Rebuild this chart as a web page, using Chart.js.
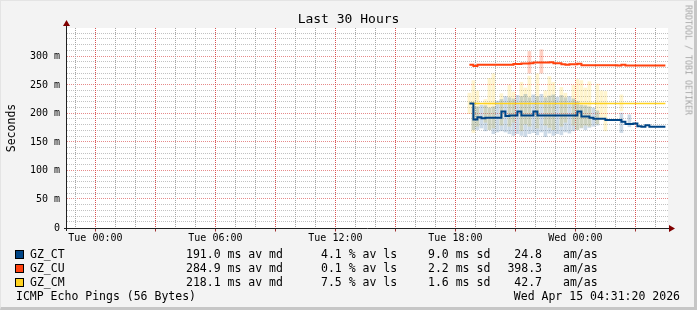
<!DOCTYPE html>
<html>
<head>
<meta charset="utf-8">
<title>Last 30 Hours</title>
<script src="https://cdn.jsdelivr.net/npm/chart.js@4.4.1/dist/chart.umd.min.js"></script>
<style>
  html, body { margin: 0; padding: 0; background: #f3f3f3; }
  #wrap { position: relative; width: 697px; height: 310px; overflow: hidden; background: #f3f3f3;
          font-family: "DejaVu Sans Mono", monospace; color: #000; }
  #frame { position: absolute; left: 0; top: 0; width: 697px; height: 310px; box-sizing: border-box;
           border-right: 3px solid #c6c6c6; border-bottom: 3px solid #c6c6c6;
           border-top: 1px solid #e4e4e4; border-left: 1px solid #e4e4e4; pointer-events: none; }
  canvas { position: absolute; left: 0; top: 0; }
  .t { position: absolute; white-space: pre; font-size: 11.5px; line-height: 14px; }
  .r { text-align: right; }
  .box { position: absolute; left: 15px; width: 9px; height: 9px; box-sizing: border-box; border: 1px solid #000; }
  #title { position: absolute; left: 0; top: 12px; width: 697px; text-align: center; font-size: 13px; line-height: 14px; }
  #ylab { position: absolute; left: 10.7px; top: 127.5px; font-size: 11.5px; line-height: 12px;
          transform: translate(-50%, -50%) rotate(-90deg); white-space: nowrap; }
  #mark { position: absolute; left: 688px; top: 60px; font-size: 8.3px; line-height: 9px;
          color: #a6a6a6; white-space: nowrap; transform: translate(-50%, -50%) rotate(90deg); }
</style>
</head>
<body>
<div id="wrap">
  <canvas id="chart" width="697" height="310"></canvas>
  <div id="title">Last 30 Hours</div>
  <div id="ylab">Seconds</div>
  <div id="mark">RRDTOOL / TOBI OETIKER</div>
  <div id="legend"></div>
  <div class="t" style="left:16px; top:289px;">ICMP Echo Pings (56 Bytes)</div>
  <div class="t r" style="right:17px; top:289px;">Wed Apr 15 04:31:20 2026</div>
  <div id="frame"></div>
</div>
<script>
// hours since Tue 00:00
const hours = [18.7, 18.9, 19.1, 19.3, 19.5, 19.7, 19.9, 20.1, 20.3, 20.5,
               20.7, 20.9, 21.1, 21.3, 21.5, 21.7, 21.9, 22.1, 22.3, 22.5,
               22.7, 22.9, 23.1, 23.3, 23.5, 23.7, 23.9, 24.1, 24.3, 24.5,
               24.7, 24.9, 25.1, 25.3, 25.5, 25.7, 25.9, 26.1, 26.3, 26.5,
               26.7, 26.9, 27.1, 27.3, 27.5, 27.7, 27.9, 28.1, 28.3, 28.5];

// median RTT, ms
const ctMedian = [218, 190, 194, 192, 193, 193, 193, 193, 204, 196,
                  197, 197, 204, 197, 197, 197, 204, 197, 197, 197,
                  197, 197, 197, 197, 197, 197, 197, 204, 195, 195,
                  193, 191, 191, 191, 189, 189, 189, 189, 186, 182,
                  182, 183, 178, 177, 180, 177, 177, 177, 177, 177];
const cuMedian = [285.5, 283.7, 285.5, 285.5, 285.5, 285.5, 285.5, 285.5, 285.5, 285.5,
                  285.5, 287, 287, 288, 288, 288.5, 289.5, 289.5, 289.5, 289.5,
                  290, 288.5, 288.5, 286.5, 285.5, 286.5, 286.5, 287.5, 285, 285,
                  285, 285, 285, 285, 285, 285, 285, 284.5, 285.5, 284.5,
                  284.5, 284.5, 284.5, 284.5, 284.5, 284.5, 284.5, 284.5, 284.5, 284.5];
const cmMedian = [218, 218, 218, 218, 218, 218, 218, 218, 218, 218,
                  218, 218, 218, 218, 218, 218, 218, 218, 218, 218,
                  218, 218, 218, 218, 218, 218, 218, 218, 218, 218,
                  218, 218, 218, 218, 218, 218, 218, 218, 218, 218,
                  218, 218, 218, 218, 218, 218, 218, 218, 218, 218];

// smoke (min / max of the pings), ms
const ctLow  = [null, 172, 172, 175, 170, 172, 165, 168, 170, 168,
                165, 162, 165, 162, 160, 165, 167, 163, 168, 160,
                166, 162, 165, 163, 168, 166, 170, 172, 175, 172,
                176, 178, 180, null, null, null, null, null, 167, null,
                177, null, null, null, null, null, null, null, null, null];
const ctHigh = [null, 212, 212, 215, 214, 210, 212, 222, 225, 230,
                228, 226, 232, 230, 234, 228, 233, 230, 234, 228,
                231, 233, 229, 232, 228, 230, 226, 221, 215, 214,
                212, 210, 205, null, null, null, null, null, 201, null,
                198, null, null, null, null, null, null, null, null, null];
const cmLow  = [200, 167, 178, null, 185, 172, 175, null, 180, null,
                178, 185, null, 170, 182, 178, null, 175, null, 180,
                176, 172, null, 178, 185, null, 180, 172, 176, 180,
                178, null, 182, 190, 170, null, null, null, 205, null,
                null, null, null, null, null, null, null, null, null, null];
const cmHigh = [236, 258, 240, null, 225, 262, 270, null, 235, null,
                250, 238, null, 255, 245, 266, null, 270, null, 240,
                265, 255, null, 246, 236, null, 250, 260, 258, 245,
                256, null, 252, 240, 239, null, null, null, 233, null,
                null, null, null, null, null, null, null, null, null, null];
const cuLow  = [null, null, null, null, null, null, null, null, null, null,
                null, null, null, null, null, 271, null, null, 271, null,
                null, null, null, null, null, null, null, null, null, null,
                null, null, null, null, null, null, null, null, null, null,
                null, null, null, null, null, null, null, null, null, null];
const cuHigh = [null, null, null, null, null, null, null, null, null, null,
                null, null, null, null, null, 309, null, null, 312, null,
                null, null, null, null, null, null, null, null, null, null,
                null, null, null, null, null, null, null, null, null, null,
                null, null, null, null, null, null, null, null, null, null];

const hosts = ["GZ_CT", "GZ_CU", "GZ_CM"];
const colors = ["#004586", "#ff420e", "#ffd320"];
const avgMedian = ["191.0", "284.9", "218.1"];
const avgLoss = ["4.1", "0.1", "7.5"];
const avgSd = ["9.0", "2.2", "1.6"];
const amas = ["24.8", "398.3", "42.7"];

const X_MIN = -1.42, X_MAX = 28.63;
const Y_MAX = 350;
// horizontal / vertical grid colours (minor, major)
const H_MINOR = "#c2c2c2", H_MAJOR = "#e68a8a";
const V_MINOR = "#a4a4a4", V_MAJOR = "#d65050";

// legend rows
const legend = document.getElementById("legend");
hosts.forEach((h, i) => {
  const top = 247 + i * 14;
  legend.insertAdjacentHTML("beforeend",
    `<div class="box" style="top:${top + 3}px; background:${colors[i]}"></div>` +
    `<div class="t" style="left:30px; top:${top}px">${h}</div>` +
    `<div class="t" style="left:186px; top:${top}px">${avgMedian[i]} ms av md</div>` +
    `<div class="t" style="left:321px; top:${top}px">${avgLoss[i]} % av ls</div>` +
    `<div class="t" style="left:428px; top:${top}px">${avgSd[i]} ms sd</div>` +
    `<div class="t r" style="left:480px; width:62px; top:${top}px">${amas[i]}</div>` +
    `<div class="t" style="left:563px; top:${top}px">am/as</div>`);
});

function pts(vals) {
  return hours.map((h, i) => ({ x: h, y: vals[i] }));
}
function smoke(lo, hi) {
  const out = [];
  hours.forEach((h, i) => {
    if (lo[i] !== null && hi[i] !== null) out.push({ x: h, y: [lo[i], hi[i]] });
  });
  return out;
}

function lineDs(label, vals, color, width) {
  return {
    type: "line", label, data: pts(vals), borderColor: color, backgroundColor: color,
    borderWidth: width, pointRadius: 0, stepped: true, fill: false,
  };
}
function smokeDs(label, lo, hi, color) {
  return {
    type: "bar", label, data: smoke(lo, hi), backgroundColor: color,
    borderWidth: 0, barThickness: 3, grouped: false,
  };
}

// rrdtool look: white canvas, dotted grid, axes with arrows
const rrdFrame = {
  id: "rrdFrame",
  beforeDraw(chart) {
    const { ctx, chartArea: a } = chart;
    ctx.save();
    ctx.fillStyle = "#ffffff";
    ctx.fillRect(a.left, a.top, a.right - a.left, a.bottom - a.top);
    ctx.restore();
  },
  beforeDatasetsDraw(chart) {
    const { ctx, chartArea: a, scales: { x, y } } = chart;
    ctx.save();
    ctx.lineWidth = 1;
    ctx.setLineDash([1, 1]);
    for (let v = 10; v < Y_MAX; v += 10) {
      const py = Math.round(y.getPixelForValue(v)) - 0.5;
      ctx.strokeStyle = v % 50 === 0 ? H_MAJOR : H_MINOR;
      ctx.beginPath();
      ctx.moveTo(a.left, py);
      ctx.lineTo(a.right, py);
      ctx.stroke();
    }
    for (let h = Math.ceil(X_MIN); h <= Math.floor(X_MAX); h++) {
      const px = Math.round(x.getPixelForValue(h)) + 0.5;
      ctx.strokeStyle = h % 3 === 0 ? V_MAJOR : V_MINOR;
      ctx.beginPath();
      ctx.moveTo(px, a.top);
      ctx.lineTo(px, a.bottom);
      ctx.stroke();
    }
    ctx.restore();
  },
  afterDraw(chart) {
    const { ctx, chartArea: a, scales: { x } } = chart;
    const x0 = a.left - 0.5, y0 = a.bottom + 0.5;
    ctx.save();
    ctx.lineWidth = 1;
    ctx.strokeStyle = "#a03030";
    ctx.beginPath();
    for (let h = Math.ceil(X_MIN); h <= Math.floor(X_MAX); h++) {
      if (h % 3 !== 0) continue;
      const px = Math.round(x.getPixelForValue(h)) + 0.5;
      ctx.moveTo(px, y0);
      ctx.lineTo(px, y0 + 3);
    }
    ctx.stroke();
    ctx.strokeStyle = "#202020";
    ctx.beginPath();
    ctx.moveTo(x0, a.bottom + 3);
    ctx.lineTo(x0, a.top - 4);
    ctx.moveTo(a.left - 3, y0);
    ctx.lineTo(a.right + 3, y0);
    ctx.stroke();
    ctx.fillStyle = "#800000";
    ctx.beginPath();
    ctx.moveTo(x0 - 3.5, a.top - 2);
    ctx.lineTo(x0 + 3.5, a.top - 2);
    ctx.lineTo(x0, a.top - 8);
    ctx.closePath();
    ctx.fill();
    ctx.beginPath();
    ctx.moveTo(a.right + 1, y0 - 3.5);
    ctx.lineTo(a.right + 1, y0 + 3.5);
    ctx.lineTo(a.right + 7, y0);
    ctx.closePath();
    ctx.fill();
    ctx.restore();
  },
};

Chart.defaults.font.family = "'DejaVu Sans Mono', monospace";
Chart.defaults.font.size = 10;
Chart.defaults.color = "#000";

new Chart(document.getElementById("chart"), {
  type: "bar",
  data: {
    datasets: [
      lineDs("GZ_CT", ctMedian, colors[0], 2),
      lineDs("GZ_CU", cuMedian, colors[1], 2),
      lineDs("GZ_CM", cmMedian, colors[2], 1.5),
      smokeDs("GZ_CU smoke", cuLow, cuHigh, "rgba(255,66,14,0.25)"),
      smokeDs("GZ_CT smoke", ctLow, ctHigh, "rgba(0,69,134,0.2)"),
      smokeDs("GZ_CM smoke", cmLow, cmHigh, "rgba(255,211,32,0.22)"),
    ],
  },
  options: {
    responsive: false,
    animation: false,
    events: [],
    layout: { padding: { top: 28, right: 29, left: 0, bottom: 0 } },
    plugins: { legend: { display: false }, tooltip: { enabled: false }, title: { display: false } },
    scales: {
      x: {
        type: "linear", min: X_MIN, max: X_MAX, offset: false,
        afterFit: (s) => { s.height = 82; },
        afterBuildTicks: (s) => {
          const ticks = [];
          for (let h = Math.ceil(X_MIN / 6) * 6; h <= X_MAX; h += 6) ticks.push({ value: h });
          s.ticks = ticks;
        },
        ticks: {
          autoSkip: false, maxRotation: 0, padding: 4,
          callback: (v) => {
            const day = v < 24 ? "Tue" : "Wed";
            const hh = String(((v % 24) + 24) % 24).padStart(2, "0");
            return `${day} ${hh}:00`;
          },
        },
        grid: { display: false, drawTicks: false, offset: false },
        border: { display: false },
      },
      y: {
        min: 0, max: Y_MAX,
        afterFit: (s) => { s.width = 67; },
        afterBuildTicks: (s) => {
          const ticks = [];
          for (let v = 0; v < Y_MAX; v += 50) ticks.push({ value: v });
          s.ticks = ticks;
        },
        ticks: {
          autoSkip: false, padding: 7,
          callback: (v) => (v === 0 ? "0" : `${v} m`),
        },
        grid: { display: false, drawTicks: false },
        border: { display: false },
      },
    },
  },
  plugins: [rrdFrame],
});
</script>
</body>
</html>
